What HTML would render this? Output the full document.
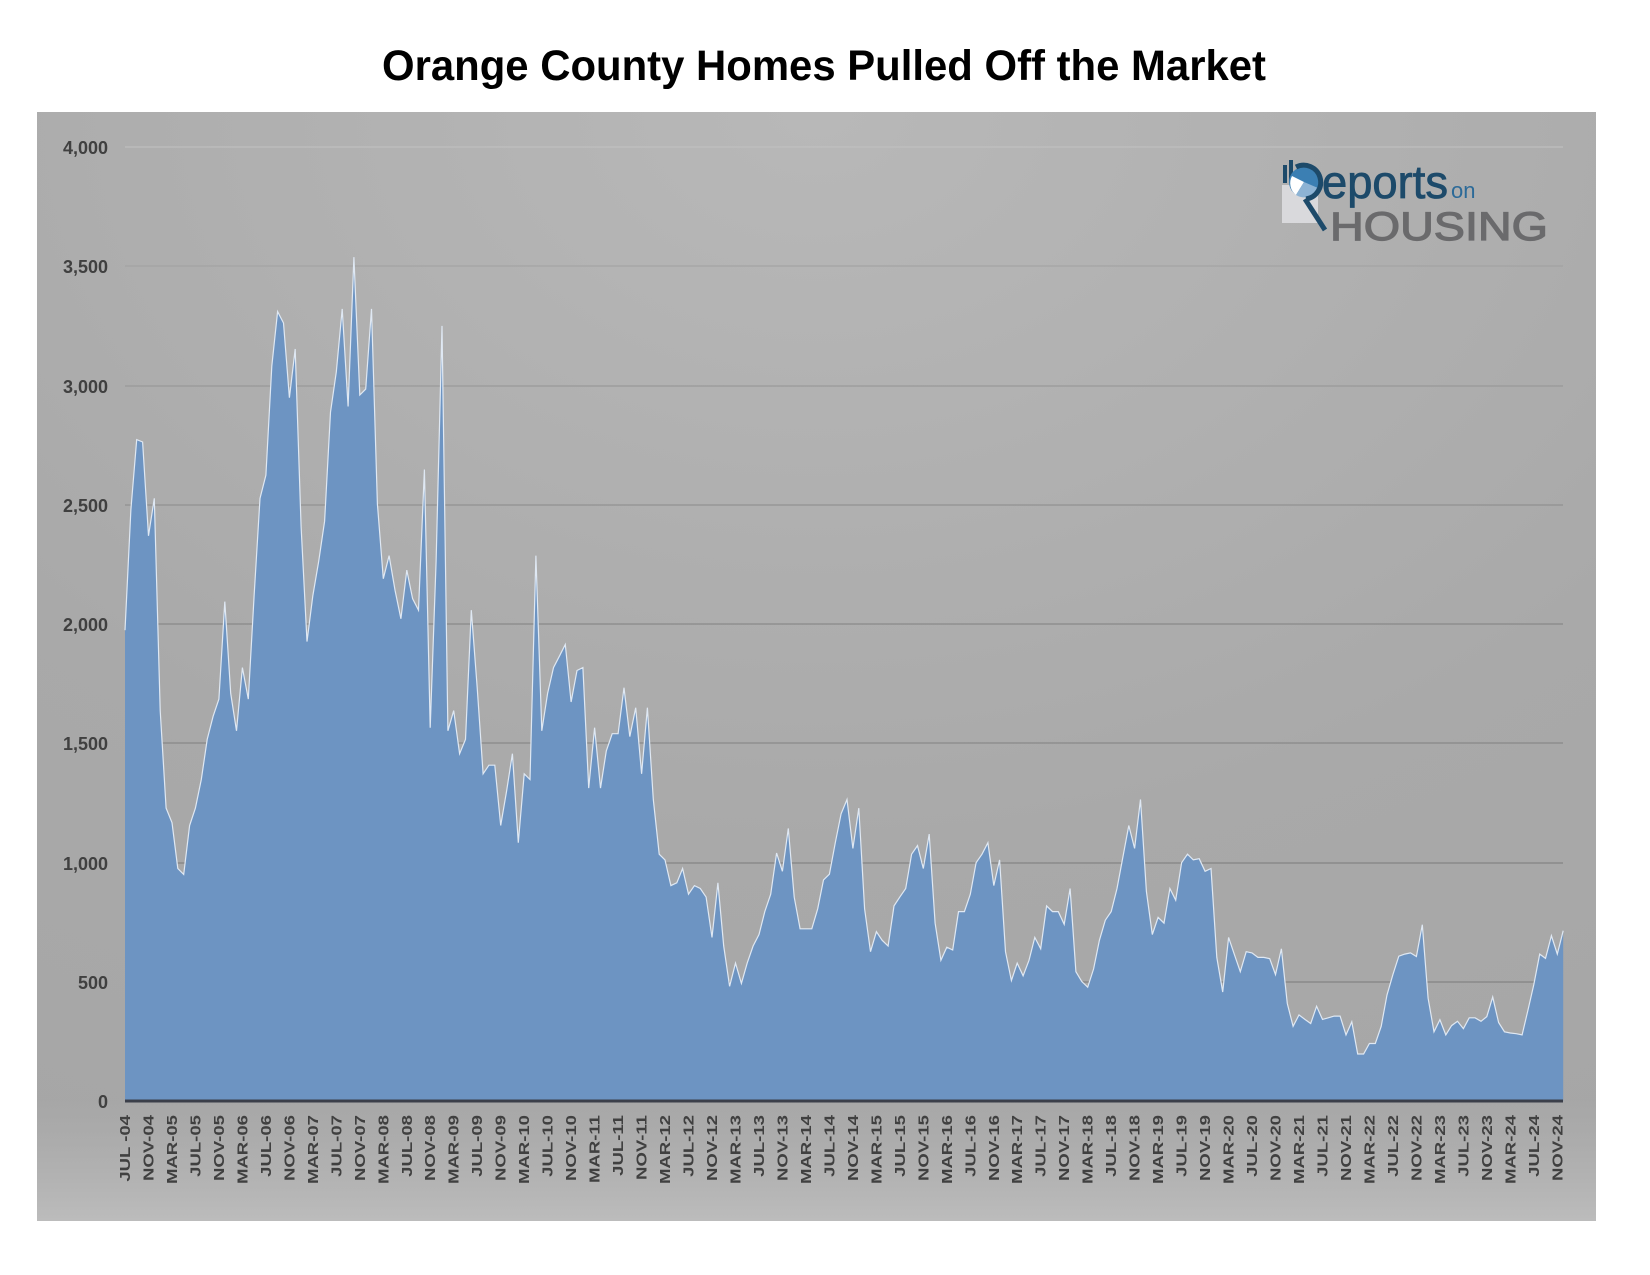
<!DOCTYPE html>
<html><head><meta charset="utf-8"><style>
html,body{margin:0;padding:0;background:#fff;}
svg{display:block;}
text{font-family:"Liberation Sans",Arial,sans-serif;}
</style></head><body>
<svg width="1650" height="1275" viewBox="0 0 1650 1275" xmlns="http://www.w3.org/2000/svg">
<defs>
<radialGradient id="bg" cx="0.5" cy="0" r="1.1">
<stop offset="0" stop-color="#b8b8b8"/>
<stop offset="0.6" stop-color="#a9a9a9"/>
<stop offset="1" stop-color="#a6a6a6"/>
</radialGradient>
<linearGradient id="bot" x1="0" y1="0" x2="0" y2="1">
<stop offset="0" stop-color="#b4b4b4" stop-opacity="0"/>
<stop offset="1" stop-color="#bcbcbc" stop-opacity="1"/>
</linearGradient>
</defs>
<text x="382" y="80" font-size="43" font-weight="bold" fill="#000" textLength="884" lengthAdjust="spacingAndGlyphs">Orange County Homes Pulled Off the Market</text>
<rect x="37" y="112" width="1559" height="1109" fill="url(#bg)"/>
<rect x="37" y="1100" width="1559" height="121" fill="url(#bot)"/>
<g stroke-width="1">
<line x1="125" x2="1563" y1="147" y2="147" stroke="#c2c2c2"/>
<line x1="125" x2="1563" y1="266" y2="266" stroke="#a0a0a0"/>
<line x1="125" x2="1563" y1="386" y2="386" stroke="#939393"/>
<line x1="125" x2="1563" y1="505" y2="505" stroke="#8a8a8a"/>
<line x1="125" x2="1563" y1="624" y2="624" stroke="#808080"/>
<line x1="125" x2="1563" y1="743" y2="743" stroke="#808080"/>
<line x1="125" x2="1563" y1="863" y2="863" stroke="#7a7a7a"/>
<line x1="125" x2="1563" y1="982" y2="982" stroke="#7a7a7a"/>
</g>
<g font-size="18" font-weight="bold" fill="#404040" text-anchor="end">
<text x="108" y="154">4,000</text>
<text x="108" y="273">3,500</text>
<text x="108" y="393">3,000</text>
<text x="108" y="512">2,500</text>
<text x="108" y="631">2,000</text>
<text x="108" y="750">1,500</text>
<text x="108" y="870">1,000</text>
<text x="108" y="989">500</text>
<text x="108" y="1108">0</text>
</g>
<g id="area"></g>
<line x1="125" x2="1563" y1="1101" y2="1101" stroke="#3b3f4a" stroke-width="3"/>
<g id="xl" font-size="14.5" font-weight="bold" fill="#404040" text-anchor="end">
<text>JUL -04</text><text>NOV-04</text><text>MAR-05</text><text>JUL-05</text><text>NOV-05</text>
<text>MAR-06</text><text>JUL-06</text><text>NOV-06</text><text>MAR-07</text><text>JUL-07</text><text>NOV-07</text>
<text>MAR-08</text><text>JUL-08</text><text>NOV-08</text><text>MAR-09</text><text>JUL-09</text><text>NOV-09</text>
<text>MAR-10</text><text>JUL-10</text><text>NOV-10</text><text>MAR-11</text><text>JUL-11</text><text>NOV-11</text>
<text>MAR-12</text><text>JUL-12</text><text>NOV-12</text><text>MAR-13</text><text>JUL-13</text><text>NOV-13</text>
<text>MAR-14</text><text>JUL-14</text><text>NOV-14</text><text>MAR-15</text><text>JUL-15</text><text>NOV-15</text>
<text>MAR-16</text><text>JUL-16</text><text>NOV-16</text><text>MAR-17</text><text>JUL-17</text><text>NOV-17</text>
<text>MAR-18</text><text>JUL-18</text><text>NOV-18</text><text>MAR-19</text><text>JUL-19</text><text>NOV-19</text>
<text>MAR-20</text><text>JUL-20</text><text>NOV-20</text><text>MAR-21</text><text>JUL-21</text><text>NOV-21</text>
<text>MAR-22</text><text>JUL-22</text><text>NOV-22</text><text>MAR-23</text><text>JUL-23</text><text>NOV-23</text>
<text>MAR-24</text><text>JUL-24</text><text>NOV-24</text>
</g>
<g>
<rect x="1282" y="185" width="36" height="38" fill="#d9d9dc"/>
<rect x="1283" y="165" width="4" height="18" fill="#1d4a6a"/>
<rect x="1289" y="160" width="4" height="23" fill="#1d4a6a"/>
<circle cx="1304" cy="182" r="15" fill="#3b7fb3"/>
<path d="M1304 182 L1292 176 A15 15 0 0 0 1296 195 Z" fill="#ffffff"/>
<path d="M1304 182 L1296 195 A15 15 0 0 0 1318 188 Z" fill="#8db3d4"/>
<path d="M1296 167 A17 17 0 1 1 1306 199" fill="none" stroke="#1d4a6a" stroke-width="5"/>
<line x1="1305" y1="199" x2="1325" y2="230" stroke="#1d4a6a" stroke-width="5"/>
<text x="1322" y="198" font-size="46" fill="#1d4a6a" stroke="#1d4a6a" stroke-width="0.8" textLength="126" lengthAdjust="spacingAndGlyphs">eports</text>
<text x="1451" y="198" font-size="22" fill="#2c6a98">on</text>
<text x="1330" y="240" font-size="40" fill="#6a6a6c" stroke="#6a6a6c" stroke-width="1.2" textLength="218" lengthAdjust="spacingAndGlyphs">HOUSING</text>
</g>
</svg>
<script>
var d=[1974,2480,2773,2763,2370,2527,1637,1228,1167,975,950,1155,1228,1348,1516,1613,1685,2094,1709,1552,1817,1685,2118,2527,2624,3081,3310,3262,2949,3153,2407,1926,2118,2263,2431,2888,3057,3321,2912,3538,2960,2985,3321,2503,2190,2287,2142,2022,2226,2106,2058,2648,1565,2263,3250,1552,1637,
1456,1516,2058,1733,1372,1408,1408,1155,1300,1456,1083,1372,1348,2287,1552,1709,1817,1865,1914,1673,1805,1817,1312,1565,1312,1468,1540,1540,1733,1528,1649,1372,1649,1264,1035,1011,903,915,975,867,903,891,855,686,915,650,481,578,493,578,650,698,794,867,1040,
963,1143,855,722,722,722,806,927,951,1083,1204,1264,1059,1228,806,626,710,674,650,818,855,891,1035,1071,975,1119,746,590,645,633,794,794,867,999,1035,1083,903,1011,626,505,578,525,590,686,638,818,794,794,741,891,542,501,477,554,674,
758,794,891,1023,1155,1059,1264,879,698,770,746,891,842,999,1035,1011,1016,963,975,602,457,686,614,542,626,621,602,602,597,530,638,409,313,361,342,325,397,342,349,356,356,277,332,197,197,241,241,313,445,530,607,
616,621,606,739,431,290,341,277,316,334,303,349,349,334,354,436,329,290,285,282,277,380,488,616,598,693,616,714];
var pts=[];for(var i=0;i<d.length;i++){pts.push((125+i*5.87).toFixed(1)+','+(1101-d[i]*0.2385).toFixed(1));}
var ns='http://www.w3.org/2000/svg';
var a=document.getElementById('area');
var poly=document.createElementNS(ns,'polygon');
poly.setAttribute('points','125,1101 '+pts.join(' ')+' '+(125+245*5.87).toFixed(1)+',1101');
poly.setAttribute('fill','#6d94c2');a.appendChild(poly);
var pl=document.createElementNS(ns,'polyline');
pl.setAttribute('points',pts.join(' '));pl.setAttribute('fill','none');pl.setAttribute('stroke','#dfe8f3');pl.setAttribute('stroke-width','1.2');a.appendChild(pl);
var ts=document.getElementById('xl').querySelectorAll('text');
for(var k=0;k<ts.length;k++){var x=125+k*4*5.87;ts[k].setAttribute('transform','translate('+(x+5).toFixed(1)+',1115) rotate(-90) scale(1.28,1)');}
</script>
</body></html>
